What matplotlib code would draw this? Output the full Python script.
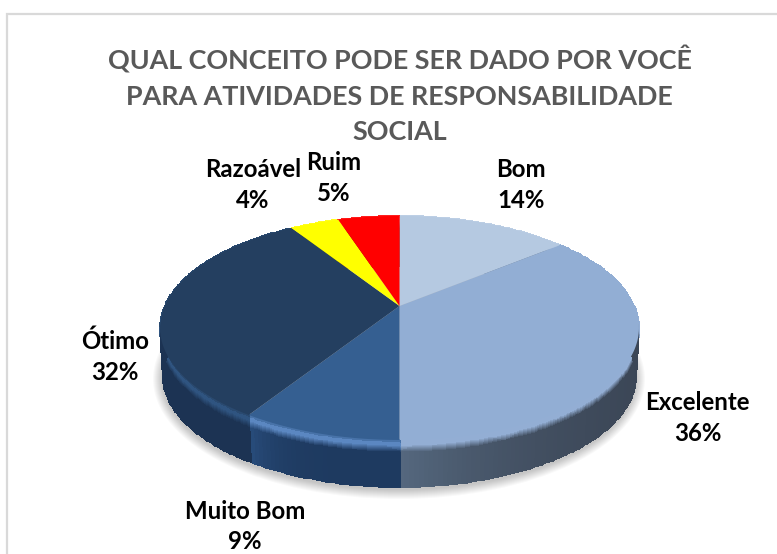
# grafico de pizza 3D - conceito para atividades de responsabilidade social
import numpy as np
import matplotlib
matplotlib.use('Agg')
import matplotlib.pyplot as plt
from matplotlib.patches import Ellipse

plt.rcParams['font.family'] = ['Lato', 'DejaVu Sans']

# dados
categorias = ['Bom', 'Excelente', 'Muito Bom', 'Ótimo', 'Razoável', 'Ruim']
valores = [14, 36, 9, 32, 4, 5]
titulo = 'QUAL CONCEITO PODE SER DADO POR VOCÊ\nPARA ATIVIDADES DE RESPONSABILIDADE\nSOCIAL'

cores_topo = ['#b5c9e1', '#92aed4', '#355f91', '#243f60', '#ffff00', '#ff0000']
cores_lado_a = ['#6f7f92', '#3b4656', '#1e3a60', '#1c3353', '#8a8a00', '#8a0000']
cores_lado_b = ['#6f7f92', '#55687f', '#284c7b', '#1f3759', '#8a8a00', '#8a0000']
cores_borda = ['#c4d5ea', '#93aed4', '#5b87c1', '#2f5480', '#ffff40', '#ff4040']

pos_rotulos = [(521, 185), (697.5, 418), (245, 526.5), (115, 357), (253, 185), (334, 178)]

# geometria da pizza em pixels (perspectiva)
cx, cy = 399.5, 306
a, b, k = 234.8, 107.7, 0.196
altura = 49


def projeta(ang, d=0.0, r=1.0):
    u = r * np.sin(ang)
    v = r * np.cos(ang)
    den = 1 + k * v
    return cx + a * u / den, cy - b * v / den + d


def rgb(c):
    return np.array(matplotlib.colors.to_rgb(c))


fig = plt.figure(figsize=(7.77, 5.54), dpi=100)
ax = fig.add_axes([0, 0, 1, 1])
ax.set_xlim(0, 777)
ax.set_ylim(554, 0)
ax.axis('off')

# moldura (so esquerda e topo aparecem)
ax.plot([7, 7, 777], [554, 14, 14], color='#d9d9d9', lw=1.6, solid_joinstyle='miter')

# sombra
for i in range(10):
    ax.add_patch(Ellipse((399, 379), 2 * (246 - i), 2 * (120 - i), fc='#000000', alpha=0.024, ec='none', zorder=1))

fracoes = np.cumsum([0] + valores) / sum(valores) * 2 * np.pi

# lateral + chanfro
prof = np.linspace(0, altura, 50)
for i in range(len(valores)):
    ini, fim = fracoes[i], fracoes[i + 1]
    n = max(int((fim - ini) * 60), 2)
    angs = np.linspace(ini, fim, n + 1)
    X = np.zeros((len(prof), n + 1))
    Y = np.zeros((len(prof), n + 1))
    for j, d in enumerate(prof):
        esc = 1 - 0.012 * d / altura
        X[j], Y[j] = projeta(angs, d, esc)
    cor = np.zeros((len(prof) - 1, n, 3))
    for j in range(len(prof) - 1):
        d = prof[j]
        for m in range(n):
            t = ((m + 0.5) / n) ** 5
            lado = rgb(cores_lado_a[i]) * (1 - t) + rgb(cores_lado_b[i]) * t
            if d < 3:
                c = rgb(cores_topo[i]) * 0.5 + rgb(cores_borda[i]) * 0.5
            elif d < 6:
                c = rgb(cores_borda[i])
            elif d < 13:
                s = (d - 6) / 7
                c = rgb(cores_borda[i]) * (1 - s) + lado * s
            else:
                c = lado
            cor[j, m] = c
    ax.pcolormesh(X, Y, cor, shading='flat', edgecolors='face', linewidth=0.3, zorder=2)

# topo
for i in range(len(valores)):
    angs = np.linspace(fracoes[i], fracoes[i + 1], 120)
    x, y = projeta(angs)
    ax.fill(np.r_[cx, x], np.r_[cy, y], color=cores_topo[i], lw=0, zorder=3)

# textos
ax.text(399.5, 95, titulo, ha='center', va='center', fontsize=19.4, fontweight='bold',
        color='#595959', linespacing=1.56, zorder=5)
for nome, v, (px, py) in zip(categorias, valores, pos_rotulos):
    ax.text(px, py, f'{nome}\n{v}%', ha='center', va='center', fontsize=17.3, fontweight='bold',
            color='black', linespacing=1.42, zorder=5)

fig.savefig('out.png', dpi=100, facecolor='white')
